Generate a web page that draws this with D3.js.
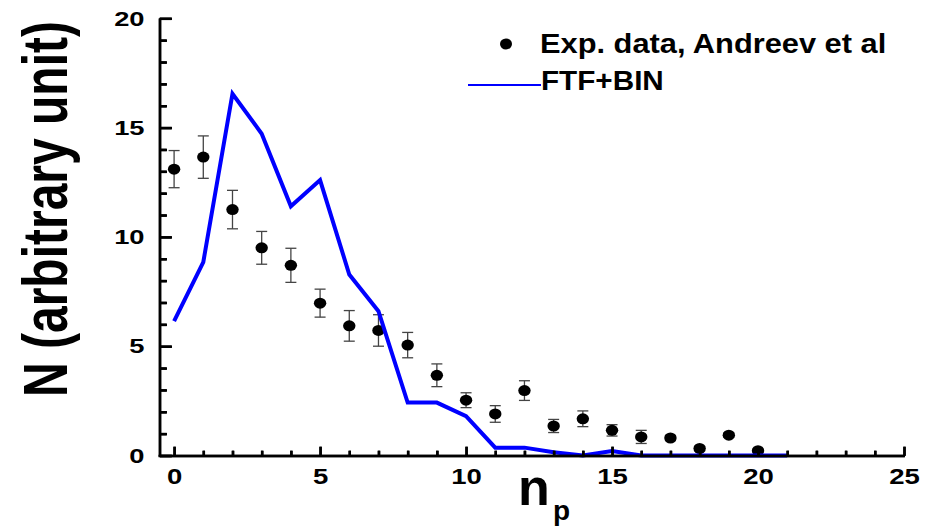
<!DOCTYPE html>
<html lang="en">
<head>
<meta charset="UTF-8">
<title>np distribution</title>
<script src="https://d3js.org/d3.v7.min.js"></script>
<style>
    body { margin: 0; background: #fff; }
    svg { display: block; font-family: "Liberation Sans", Arial, sans-serif; }
    .axis text { font-size: 21px; font-weight: bold; fill: #000; }
</style>
</head>
<body>
<svg id="chart" width="934" height="529"></svg>
<script>
    // experimental points (Andreev et al)
    const expN = [0, 1, 2, 3, 4, 5, 6, 7, 8, 9, 10, 11, 12, 13, 14, 15, 16, 17, 18, 19, 20];
    const expVal = [13.1, 13.65, 11.25, 9.5, 8.7, 6.97, 5.93, 5.72, 5.05, 3.67, 2.53, 1.9, 2.97, 1.35, 1.68, 1.15, 0.85, 0.8, 0.32, 0.93, 0.22];
    const expErr = [0.85, 0.97, 0.88, 0.75, 0.78, 0.64, 0.7, 0.72, 0.58, 0.52, 0.34, 0.38, 0.45, 0.3, 0.36, 0.26, 0.3, 0.12, 0.1, 0.1, 0.05];

    // FTF+BIN model
    const modN = [0, 1, 2, 3, 4, 5, 6, 7, 8, 9, 10, 11, 12, 13, 14, 15, 16, 17, 18, 19, 20, 21];
    const modVal = [6.15, 8.85, 16.55, 14.72, 11.4, 12.6, 8.28, 6.6, 2.42, 2.42, 1.8, 0.36, 0.36, 0.15, 0, 0.2, 0, 0, 0, 0, 0, 0];

    const xTicks = d3.range(0, 26);   // labels only on multiples of 5
    const yTicks = d3.range(0, 21);

    const svg = d3.select("#chart");
    const x = d3.scaleLinear().domain([-0.5, 25]).range([159.5, 904]);
    const y = d3.scaleLinear().domain([0, 20]).range([455.5, 18.3]);

    const pts = expN.map((n, i) => ({n: n, v: expVal[i], e: expErr[i]}));
    const mod = modN.map((n, i) => ({n: n, v: modVal[i]}));

    // error bars
    const eb = svg.append("g").attr("stroke", "#444").attr("stroke-width", 1.3);
    pts.forEach(d => {
        eb.append("line").attr("x1", x(d.n)).attr("x2", x(d.n))
            .attr("y1", y(d.v - d.e)).attr("y2", y(d.v + d.e));
        [d.v - d.e, d.v + d.e].forEach(v => {
            eb.append("line").attr("x1", x(d.n) - 5.5).attr("x2", x(d.n) + 5.5)
                .attr("y1", y(v)).attr("y2", y(v));
        });
    });

    svg.append("g").selectAll("ellipse").data(pts).enter()
        .append("ellipse")
        .attr("cx", d => x(d.n)).attr("cy", d => y(d.v))
        .attr("rx", 6.2).attr("ry", 5.5)
        .attr("fill", "#000");

    svg.append("path").datum(mod)
        .attr("fill", "none").attr("stroke", "#0000ff").attr("stroke-width", 4)
        .attr("d", d3.line().x(d => x(d.n)).y(d => y(d.v)));

    // axis titles
    svg.append("text")
        .attr("transform", "translate(67,209) rotate(-90) scale(1,1.3)")
        .attr("text-anchor", "middle")
        .style("font-size", "48px").style("font-weight", "bold")
        .text("N (arbitrary unit)");

    const xt = svg.append("text").attr("x", 518).attr("y", 505)
        .style("font-size", "52px").style("font-weight", "bold");
    xt.append("tspan").text("n");
    xt.append("tspan").attr("x", 553).attr("y", 520).style("font-size", "28px").text("p");

    // legend (text slightly widened like the original)
    const lg = svg.append("g").style("font-weight", "bold").style("font-size", "28px");
    lg.append("ellipse").attr("cx", 506).attr("cy", 44).attr("rx", 6).attr("ry", 5.5).attr("fill", "#000");
    lg.append("text").attr("transform", "translate(540,53) scale(1.1,1)")
        .text("Exp. data, Andreev et al");
    lg.append("line").attr("x1", 468).attr("x2", 541).attr("y1", 85).attr("y2", 85)
        .attr("stroke", "#0000ff").attr("stroke-width", 2);
    lg.append("text").attr("transform", "translate(541,90) scale(1.06,1)")
        .text("FTF+BIN");

    // axes: labels from d3 axes, ticks point inward; minor ticks every 1
    const xAxis = svg.append("g").attr("class", "axis")
        .attr("transform", `translate(0,${y(0)})`)
        .call(d3.axisBottom(x).tickValues(xTicks).tickSize(-9).tickSizeOuter(0).tickPadding(12.5)
            .tickFormat(d => d % 5 === 0 ? d : ""));
    xAxis.selectAll("path, line").attr("stroke", "#000").attr("stroke-width", 2.5);
    xAxis.selectAll(".tick line").attr("y2", d => d % 5 === 0 ? -9 : -5);
    xAxis.selectAll("text").style("font-size", "22px").attr("transform", "scale(1.25,1)");

    const yAxis = svg.append("g").attr("class", "axis")
        .attr("transform", `translate(${x.range()[0]},0)`)
        .call(d3.axisLeft(y).tickValues(yTicks).tickSize(-12).tickSizeOuter(0).tickPadding(15)
            .tickFormat(d => d % 5 === 0 ? d : ""));
    yAxis.selectAll("path, line").attr("stroke", "#000").attr("stroke-width", 2.5);
    yAxis.selectAll(".tick line").attr("x2", d => d % 5 === 0 ? 12 : 7);
    yAxis.selectAll("text").attr("x", -15 / 1.3).attr("transform", "scale(1.3,1)");

    // frame lines and ticks as plain lines from the same scales, so they always paint
    const x0 = x.range()[0], x1 = x.range()[1], yb = y(0) + 0.5;
    const fr = svg.append("g").attr("stroke", "#000").attr("stroke-width", 2.5);
    fr.append("line").attr("x1", x0 - 1).attr("x2", x1 + 1).attr("y1", yb).attr("y2", yb);
    fr.append("line").attr("x1", x0 + 0.5).attr("x2", x0 + 0.5).attr("y1", yb + 1).attr("y2", y(20));
    fr.selectAll("line.xt").data(xTicks).enter().append("line").attr("class", "xt")
        .attr("x1", d => x(d) + 0.5).attr("x2", d => x(d) + 0.5)
        .attr("y1", yb).attr("y2", d => yb - (d % 5 === 0 ? 9 : 5));
    fr.selectAll("line.yt").data(yTicks).enter().append("line").attr("class", "yt")
        .attr("x1", x0 + 0.5).attr("x2", d => x0 + 0.5 + (d % 5 === 0 ? 12 : 7))
        .attr("y1", d => y(d) + 0.5).attr("y2", d => y(d) + 0.5);
</script>
</body>
</html>
